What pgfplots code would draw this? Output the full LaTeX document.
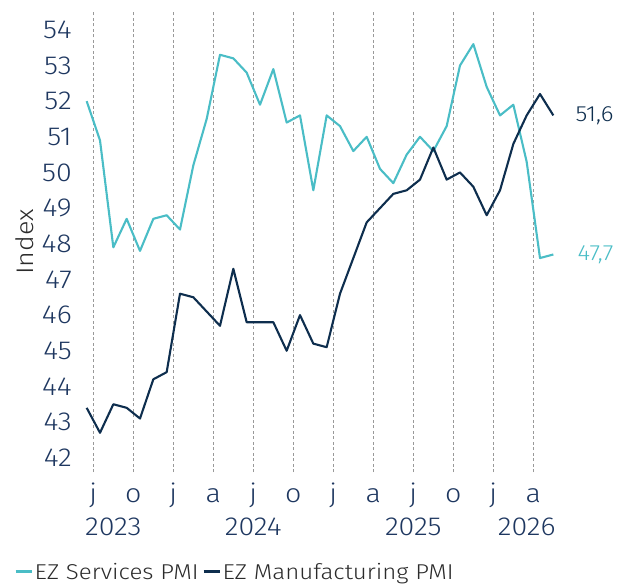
\documentclass[border=0pt]{standalone}
\usepackage{fontspec}
\setmainfont{Fira Sans}[UprightFont={* Light}]
\newfontfamily\legfont{Fira Sans}[UprightFont={* Light}, FakeStretch=1.12]
\newfontfamily\tickfont{Fira Sans}[UprightFont={* Light}, FakeStretch=1.1]
\usepackage{pgfplots}
\pgfplotsset{compat=1.18}
\definecolor{serv}{HTML}{4ABDC6}
\definecolor{manu}{HTML}{0E2E4E}
\definecolor{ticktxt}{HTML}{1E3760}
\definecolor{legtxt}{HTML}{2B2B2B}
\tikzset{yr/.style={anchor=base, inner sep=0pt, text=ticktxt, font=\tickfont\fontsize{26}{30}\selectfont, yshift=-63.7pt}}
\begin{document}
\begin{tikzpicture}
\useasboundingbox (-80pt,-112pt) rectangle (548pt,472pt);
\begin{axis}[
  scale only axis, width=480pt, height=460pt,
  xmin=-0.5, xmax=35.5, ymin=41.6, ymax=54.5,
  clip=false,
  axis line style={draw=none}, major tick style={draw=none},
  xtick={0.5,3.5,...,33.5},
  xticklabels={j,o,j,a,j,o,j,a,j,o,j,a},
  ytick={42,43,...,54},
  xmajorgrids, grid style={dash pattern=on 3pt off 2.5pt, color=gray!80, line width=0.9pt},
  /pgf/number format/assume math mode=true,
  tick label style={font=\tickfont\fontsize{26}{30}\selectfont, text=ticktxt},
  yticklabel style={inner sep=0pt, xshift=-8pt},
  xticklabel style={anchor=base, inner sep=0pt, yshift=-30pt},
  ylabel={Index},
  ylabel style={at={(axis description cs:-0.115,0.5)}, anchor=center, font=\legfont\fontsize{24}{28}\selectfont, text=legtxt},
  legend columns=2,
  legend style={at={(axis description cs:-0.1375,-0.2167)}, anchor=west, draw=none, fill=none,
    font=\legfont\fontsize{21.5}{24}\selectfont, text=legtxt, inner sep=0pt,
    nodes={inner sep=1.5pt}, /tikz/every even column/.append style={column sep=2pt}},
  legend image code/.code={\draw[#1, line width=3pt] (0pt,0pt) -- (16pt,0pt);},
]
\addplot[serv, line width=2.1pt, line join=round] coordinates {
(0,52.0) (1,50.9) (2,47.9) (3,48.7) (4,47.8) (5,48.7) (6,48.8) (7,48.4) (8,50.2) (9,51.5)
(10,53.3) (11,53.2) (12,52.8) (13,51.9) (14,52.9) (15,51.4) (16,51.6) (17,49.5) (18,51.6) (19,51.3)
(20,50.6) (21,51.0) (22,50.1) (23,49.7) (24,50.5) (25,51.0) (26,50.6) (27,51.3) (28,53.0) (29,53.6)
(30,52.4) (31,51.6) (32,51.9) (33,50.3) (34,47.6) (35,47.7)};
\addlegendentry{EZ Services PMI}
\addplot[manu, line width=2.1pt, line join=round] coordinates {
(0,43.4) (1,42.7) (2,43.5) (3,43.4) (4,43.1) (5,44.2) (6,44.4) (7,46.6) (8,46.5) (9,46.1)
(10,45.7) (11,47.3) (12,45.8) (13,45.8) (14,45.8) (15,45.0) (16,46.0) (17,45.2) (18,45.1) (19,46.6)
(20,47.6) (21,48.6) (22,49.0) (23,49.4) (24,49.5) (25,49.8) (26,50.7) (27,49.8) (28,50.0) (29,49.6)
(30,48.8) (31,49.5) (32,50.8) (33,51.6) (34,52.2) (35,51.6)};
\addlegendentry{EZ Manufacturing PMI}
\node[anchor=west, inner sep=0pt, text=manu, font=\tickfont\fontsize{22}{26}\selectfont] at (axis cs:35,51.6) [xshift=22pt] {51,6};
\node[anchor=west, inner sep=0pt, text=serv, font=\tickfont\fontsize{22}{26}\selectfont] at (axis cs:35,47.7) [xshift=24pt] {47,7};
\node[yr] at (axis cs:2,41.6) {2023};
\node[yr] at (axis cs:12.5,41.6) {2024};
\node[yr] at (axis cs:24.5,41.6) {2025};
\node[yr] at (axis cs:33,41.6) {2026};
\end{axis}
\end{tikzpicture}
\end{document}
